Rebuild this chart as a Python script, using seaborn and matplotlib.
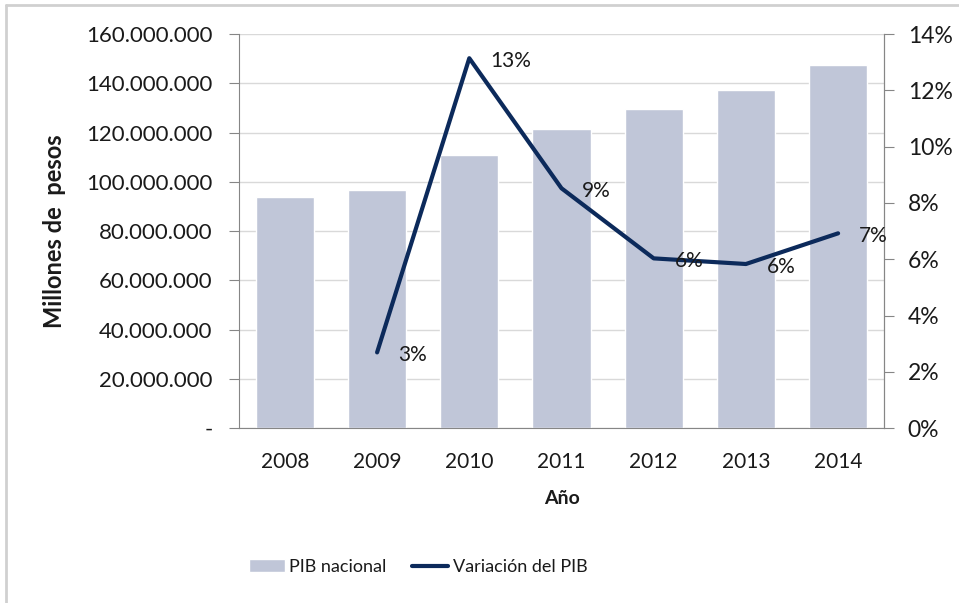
import numpy as np
import pandas as pd
import seaborn as sns
import matplotlib
matplotlib.use("Agg")
import matplotlib.pyplot as plt
from matplotlib.ticker import FuncFormatter, MultipleLocator, FixedLocator
from matplotlib.lines import Line2D

years = ["2008", "2009", "2010", "2011", "2012", "2013", "2014"]
pib_nacional = [93.8e6, 96.8e6, 111.0e6, 121.4e6, 129.4e6, 137.3e6, 147.5e6]
variacion = [np.nan, 0.0269, 0.1314, 0.0852, 0.0603, 0.0583, 0.0692]
etiquetas = ["", "3%", "13%", "9%", "6%", "6%", "7%"]

bar_color = "#c0c6d8"
line_color = "#0c2a5b"
axis_color = "#868686"
text_color = "#1a1a1a"

sns.set_style("white")
plt.rcParams["font.family"] = ["Lato", "DejaVu Sans"]

df = pd.DataFrame({"year": years, "pib": pib_nacional, "var": variacion})
df["pos"] = np.arange(len(years))

fig = plt.figure(figsize=(9.59, 6.03), dpi=100)
# thin grey frame (top and left edges visible in the original)
fig.lines.append(Line2D([0.006, 1.0], [0.992, 0.992], transform=fig.transFigure,
                        color="#d0d0d0", linewidth=2))
fig.lines.append(Line2D([0.006, 0.006], [0.0, 0.992], transform=fig.transFigure,
                        color="#d0d0d0", linewidth=2))
ax = fig.add_axes([0.249, 0.290, 0.673, 0.6536])

sns.barplot(data=df, x="year", y="pib", color=bar_color, width=0.63,
            saturation=1, ax=ax, label="PIB nacional", zorder=2)
ax.set_ylim(0, 160e6)
ax.yaxis.set_major_locator(MultipleLocator(20e6))
ax.yaxis.set_major_formatter(FuncFormatter(
    lambda v, p: "-" if v == 0 else f"{int(v):,}".replace(",", ".")))
ax.grid(axis="y", color="#d9d9d9", linewidth=1, zorder=0)
ax.set_axisbelow(True)
ax.set_xlim(-0.5, len(years) - 0.5)

ax.set_xlabel("Año", fontsize=14, fontweight="bold", color=text_color, labelpad=13)
ax.set_ylabel("Millones de  pesos", fontsize=17, fontweight="bold", color=text_color)
ax.yaxis.set_label_coords(-0.268, 0.5)
ax.tick_params(axis="y", labelsize=16, colors=axis_color, labelcolor=text_color,
               length=7, direction="out", pad=12)
ax.tick_params(axis="x", which="major", length=0, labelsize=15, labelcolor=text_color, pad=17)
ax.xaxis.set_minor_locator(FixedLocator(np.arange(-0.5, len(years), 1.0)))
ax.tick_params(axis="x", which="minor", length=7, color=axis_color, direction="out")

ax.spines["top"].set_visible(False)
for s in ["left", "bottom", "right"]:
    ax.spines[s].set_color(axis_color)

ax2 = ax.twinx()
d2 = df.dropna(subset=["var"])
sns.lineplot(data=d2, x="pos", y="var", color=line_color, linewidth=3,
             ax=ax2, label="Variación del PIB", legend=False)
ax2.set_ylim(0, 0.14)
ax2.yaxis.set_major_locator(MultipleLocator(0.02))
ax2.yaxis.set_major_formatter(FuncFormatter(lambda v, p: f"{v*100:.0f}%"))
ax2.tick_params(axis="y", labelsize=16.5, colors=axis_color, labelcolor=text_color,
                length=7, direction="out", pad=10)
ax2.set_ylabel("")
for s in ["top", "left", "bottom"]:
    ax2.spines[s].set_visible(False)
ax2.spines["right"].set_color(axis_color)

for i, (v, lab) in enumerate(zip(variacion, etiquetas)):
    if lab:
        ax2.annotate(lab, (i, v), xytext=(15, -2), textcoords="offset points",
                     fontsize=15, color=text_color, va="center", ha="left")

h1, l1 = ax.get_legend_handles_labels()
h2, l2 = ax2.get_legend_handles_labels()
if ax.get_legend():
    ax.get_legend().remove()
fig.legend(h1 + h2, l1 + l2, loc="center", bbox_to_anchor=(0.436, 0.06), ncol=2,
           frameon=False, fontsize=13, handlelength=2.0, columnspacing=1.4,
           handletextpad=0.25, labelcolor=text_color)

fig.savefig("out.png", dpi=100)
